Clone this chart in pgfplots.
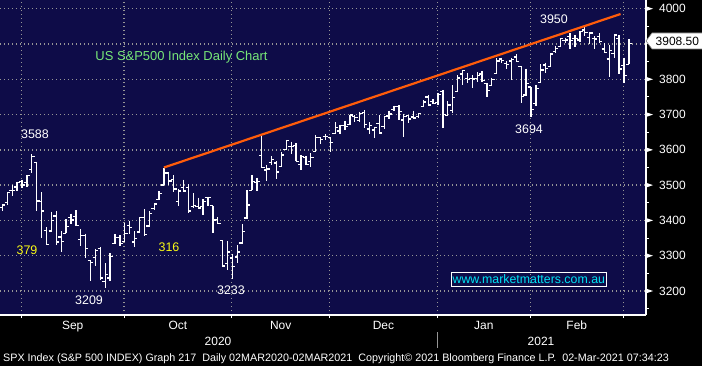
\documentclass[border=0pt]{standalone}
\usepackage{fontspec}
\setmainfont{Liberation Sans}
\usepackage{pgfplots}
\usepackage{pgfplotstable}
\pgfplotsset{compat=1.18}
\definecolor{bgnavy}{RGB}{14,12,72}
\definecolor{gridgray}{RGB}{150,150,150}
\definecolor{titlegreen}{RGB}{120,232,120}
\definecolor{lblyellow}{RGB}{250,250,20}
\definecolor{urlcyan}{RGB}{0,228,245}
\definecolor{trendorange}{RGB}{255,92,10}
\pgfdeclareplotmark{otick}{\pgfpathmoveto{\pgfpoint{-2.8bp}{0bp}}\pgfpathlineto{\pgfpoint{0.4bp}{0bp}}\pgfusepathqstroke}
\pgfdeclareplotmark{ctick}{\pgfpathmoveto{\pgfpoint{-0.4bp}{0bp}}\pgfpathlineto{\pgfpoint{2.8bp}{0bp}}\pgfusepathqstroke}
\pgfdeclareplotmark{rtri}{\pgfpathmoveto{\pgfpoint{0bp}{2.4bp}}\pgfpathlineto{\pgfpoint{7bp}{0bp}}\pgfpathlineto{\pgfpoint{0bp}{-2.4bp}}\pgfpathclose\pgfusepathqfill}
\pgfplotstableread{
i o h l c
-6 3418.09 3432.09 3413.13 3431.28
-5 3435.95 3444.21 3425.84 3443.62
-4 3449.97 3481.07 3444.15 3478.73
-3 3485.14 3501.38 3468.35 3484.55
-2 3494.69 3509.23 3484.32 3508.01
-1 3509.73 3514.77 3493.25 3500.31
0 3507.44 3528.03 3494.60 3526.65
1 3543.76 3588.11 3535.23 3580.84
2 3564.74 3564.85 3427.41 3455.06
3 3453.60 3479.15 3349.63 3426.96
4 3371.88 3379.97 3329.27 3331.84
5 3369.82 3424.77 3366.84 3398.96
6 3412.56 3425.55 3329.25 3339.19
7 3352.70 3368.95 3310.47 3340.97
8 3363.56 3402.93 3363.56 3383.54
9 3407.73 3419.48 3389.25 3401.20
10 3411.23 3428.92 3384.45 3385.49
11 3346.86 3375.17 3328.82 3357.01
12 3357.38 3362.27 3292.40 3319.47
13 3285.57 3285.57 3229.10 3281.06
14 3295.75 3320.31 3270.95 3315.57
15 3320.11 3323.35 3232.57 3236.92
16 3226.14 3278.70 3209.45 3246.59
17 3236.66 3306.88 3228.44 3298.46
18 3333.90 3360.74 3332.91 3351.60
19 3350.92 3357.92 3327.54 3335.47
20 3341.21 3393.56 3340.47 3363.00
21 3385.87 3397.18 3361.39 3380.80
22 3338.94 3369.10 3323.69 3348.42
23 3367.27 3409.57 3367.27 3408.60
24 3408.74 3431.56 3354.54 3360.97
25 3384.56 3426.26 3384.56 3419.44
26 3434.28 3447.28 3428.15 3446.83
27 3459.67 3482.34 3458.07 3477.14
28 3500.02 3549.85 3499.61 3534.22
29 3534.01 3534.01 3500.86 3511.93
30 3515.47 3527.94 3480.55 3488.67
31 3453.72 3489.08 3440.89 3483.34
32 3493.50 3515.76 3480.45 3483.81
33 3493.66 3502.42 3419.93 3426.92
34 3439.38 3476.93 3435.65 3443.12
35 3439.91 3464.86 3433.06 3435.56
36 3438.50 3460.53 3415.34 3453.49
37 3464.90 3466.46 3440.45 3465.39
38 3441.42 3441.42 3364.86 3400.97
39 3403.15 3409.51 3388.71 3390.68
40 3342.48 3342.48 3268.89 3271.03
41 3277.17 3341.05 3259.82 3310.11
42 3293.59 3304.93 3233.94 3269.96
43 3296.20 3330.14 3279.74 3310.24
44 3336.25 3389.49 3336.25 3369.16
45 3406.46 3486.25 3405.17 3443.44
46 3485.74 3529.05 3485.74 3510.45
47 3508.34 3521.58 3484.34 3509.44
48 3583.04 3645.99 3547.48 3550.50
49 3543.26 3557.22 3511.91 3545.53
50 3563.22 3581.16 3557.00 3572.66
51 3562.67 3569.02 3518.58 3537.01
52 3552.57 3593.66 3552.57 3585.15
53 3600.16 3628.51 3600.16 3626.91
54 3610.31 3623.11 3588.68 3609.53
55 3612.09 3619.09 3567.33 3567.79
56 3559.41 3585.22 3543.84 3581.87
57 3579.31 3581.23 3556.85 3557.54
58 3566.82 3589.81 3552.77 3577.59
59 3594.52 3642.31 3594.52 3635.41
60 3635.50 3635.50 3617.76 3629.65
61 3638.55 3644.31 3629.33 3638.35
62 3634.18 3634.18 3594.39 3621.63
63 3645.87 3678.45 3645.87 3662.45
64 3653.78 3670.96 3644.84 3669.01
65 3668.28 3682.73 3657.17 3666.72
66 3670.94 3699.20 3670.94 3699.12
67 3694.73 3697.41 3678.88 3691.96
68 3683.05 3708.45 3678.83 3702.25
69 3705.98 3712.39 3660.54 3672.82
70 3659.13 3678.49 3645.18 3668.10
71 3656.08 3665.91 3633.40 3663.46
72 3675.27 3697.61 3645.84 3647.49
73 3666.41 3695.29 3659.62 3694.62
74 3696.25 3711.27 3688.57 3701.17
75 3713.65 3725.12 3710.87 3722.48
76 3722.39 3726.70 3685.84 3709.41
77 3684.28 3702.90 3636.48 3694.92
78 3698.08 3698.26 3676.16 3687.26
79 3693.42 3711.24 3689.28 3690.01
80 3694.03 3703.82 3689.32 3703.06
81 3723.03 3740.51 3723.03 3735.36
82 3750.01 3756.12 3723.31 3727.04
83 3736.19 3744.63 3730.21 3732.04
84 3733.27 3760.20 3726.88 3756.07
85 3764.61 3769.99 3662.71 3700.65
86 3698.02 3737.83 3695.07 3726.86
87 3712.20 3783.04 3705.34 3748.14
88 3764.71 3811.55 3764.71 3803.79
89 3815.05 3826.69 3783.60 3824.68
90 3803.14 3817.86 3789.02 3799.61
91 3801.62 3810.78 3776.51 3801.19
92 3802.23 3820.96 3791.50 3809.84
93 3814.98 3823.60 3792.86 3795.54
94 3788.73 3788.73 3749.62 3768.25
95 3781.88 3804.53 3780.37 3798.91
96 3816.22 3859.75 3816.22 3851.85
97 3857.46 3861.45 3845.05 3853.07
98 3844.24 3852.31 3830.41 3841.47
99 3851.68 3859.23 3797.16 3855.36
100 3862.96 3870.90 3847.78 3849.62
101 3836.83 3836.83 3732.48 3750.77
102 3755.75 3830.50 3755.75 3787.38
103 3778.05 3778.05 3694.12 3714.24
104 3731.17 3784.32 3725.62 3773.86
105 3791.84 3843.09 3791.84 3826.31
106 3840.27 3847.51 3816.68 3830.17
107 3836.66 3872.42 3836.66 3871.74
108 3878.30 3894.56 3874.93 3886.83
109 3892.59 3915.77 3892.59 3915.59
110 3910.49 3918.35 3902.64 3911.23
111 3920.78 3931.50 3884.94 3909.88
112 3916.40 3925.99 3890.39 3916.38
113 3911.65 3937.23 3905.78 3934.83
114 3939.61 3950.43 3923.85 3932.59
115 3918.50 3933.61 3900.43 3931.33
116 3915.86 3921.98 3885.60 3913.97
117 3921.16 3930.41 3903.07 3906.71
118 3885.55 3902.92 3874.71 3876.50
119 3857.07 3895.98 3805.59 3881.37
120 3873.71 3928.65 3859.60 3925.43
121 3915.80 3925.02 3814.04 3829.34
122 3839.66 3861.08 3789.54 3811.15
123 3842.51 3914.50 3842.51 3901.82
}\ohlc
\begin{document}
\begin{tikzpicture}
\fill[black] (0,0) rectangle (702bp,366bp);
\begin{axis}[
  at={(0bp,51bp)}, anchor=south west,
  scale only axis, width=646bp, height=315bp,
  xmin=-5.5, xmax=126.5, ymin=3132, ymax=4024.65,
  clip mode=individual,
  axis background/.style={fill=bgnavy},
  axis x line*=bottom, axis y line*=right,
  axis line style={white, line width=1.5bp, -},
  xtick={-1.15,19.85,41.85,61.85,83.85,102.85,121.85},
  xticklabels={},
  extra x ticks={9.35,30.85,51.85,72.85,93.35,112.35},
  extra x tick labels={Sep,Oct,Nov,Dec,Jan,Feb},
  extra x tick style={grid=none, major tick length=0pt,
     xticklabel style={anchor=base, yshift=-14bp}},
  ytick={3200,3300,...,4000},
  yticklabels={3200,3300,3400,3500,3600,3700,3800,,4000},
  minor ytick={3150,3250,...,3950},
  xmajorgrids, ymajorgrids,
  grid style={color=gridgray, line width=1.3bp, dash pattern=on 1.4bp off 2.6bp},
  tick align=outside,
  major tick length=3bp, minor tick length=3bp,
  tick style={white, line width=1bp},
  ticklabel style={font=\fontsize{12}{14}\selectfont, text=white},
  yticklabel style={anchor=west, inner sep=0pt, xshift=10bp},
  /pgf/number format/assume math mode=true,
]
\addplot[draw=none, mark=none, forget plot,
  error bars/.cd, y dir=minus, y explicit, error mark=none,
  error bar style={draw=white, line width=1.3bp}]
  table[x=i, y=h, y error minus expr=\thisrow{h}-\thisrow{l}] {\ohlc};
\addplot[only marks, mark=otick, mark options={draw=white, line width=1.3bp}] table[x=i, y=o] {\ohlc};
\addplot[only marks, mark=ctick, mark options={draw=white, line width=1.3bp}] table[x=i, y=c] {\ohlc};
\addplot[trendorange, line width=2.2bp] coordinates {(28,3550) (121.3,3985)};
\addplot[only marks, mark=rtri, color=white, mark options={fill=white}] coordinates
  {(126.5,3200) (126.5,3300) (126.5,3400) (126.5,3500) (126.5,3600) (126.5,3700) (126.5,3800) (126.5,4000)};
\node[text=titlegreen, font=\fontsize{13}{15}\selectfont] at (axis cs:31.59,3861.7) {US S\&P500 Index Daily Chart};
\node[text=white, font=\fontsize{12.5}{14}\selectfont] at (axis cs:1.65,3645) {3588};
\node[text=lblyellow, font=\fontsize{12.5}{14}\selectfont] at (axis cs:0.02,3316) {379};
\node[text=white, font=\fontsize{12.5}{14}\selectfont] at (axis cs:12.7,3174.5) {3209};
\node[text=lblyellow, font=\fontsize{12.5}{14}\selectfont] at (axis cs:29.03,3324.7) {316};
\node[text=white, font=\fontsize{12.5}{14}\selectfont] at (axis cs:41.7,3200.9) {3233};
\node[text=white, font=\fontsize{12.5}{14}\selectfont] at (axis cs:102.6,3659.1) {3694};
\node[text=white, font=\fontsize{12.5}{14}\selectfont] at (axis cs:107.7,3970.8) {3950};
\node[draw=white, line width=1bp, text=urlcyan, font=\fontsize{12.4}{14}\selectfont, inner xsep=1.5bp, inner ysep=2.5bp] at (axis cs:102.55,3232.6) {www.marketmatters.com.au};
\node[text=white, font=\fontsize{12}{14}\selectfont, anchor=base, yshift=-30.7bp] at (axis cs:39.05,3132) {2020};
\node[text=white, font=\fontsize{12}{14}\selectfont, anchor=base, yshift=-30.7bp] at (axis cs:105.05,3132) {2021};
\draw[gridgray, line width=1bp] (axis cs:83.85,3132) ++(0bp,-17bp) -- ++(0bp,-16bp);
\fill[white, draw=gray, line width=0.6bp] (axis cs:126.5,3908.5) -- ++(6bp,8bp) -- ++(52bp,0bp) -- ++(0bp,-16bp) -- ++(-52bp,0bp) -- cycle;
\node[text=black, font=\fontsize{12}{14}\selectfont, anchor=west, inner sep=0pt, xshift=9.5bp] at (axis cs:126.5,3908.5) {3908.50};
\end{axis}
\node[anchor=base west, text=white, inner sep=0pt, font=\fontsize{10.8}{13}\selectfont] at (3bp,4.3bp)
  {SPX Index (S\&P 500 INDEX) Graph 217\ \ Daily 02MAR2020-02MAR2021\ \ Copyright© 2021 Bloomberg Finance L.P.\ \ 02-Mar-2021 07:34:23};
\pgfresetboundingbox
\path[use as bounding box] (0,0) rectangle (702bp,366bp);
\end{tikzpicture}
\end{document}
